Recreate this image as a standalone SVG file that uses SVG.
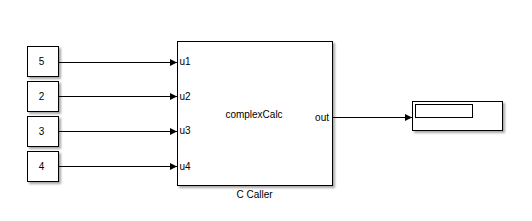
<svg xmlns="http://www.w3.org/2000/svg" width="532" height="221" viewBox="0 0 532 221">
<defs>
<marker id="arr" markerWidth="8" markerHeight="8" refX="7" refY="4" orient="auto" markerUnits="userSpaceOnUse">
<path d="M0,0.5 L7,4 L0,7.5 z" fill="#000"/>
</marker>
<filter id="sh" x="-10%" y="-10%" width="130%" height="130%">
<feGaussianBlur in="SourceAlpha" stdDeviation="1"/>
<feOffset dx="2" dy="2" result="b"/>
<feComponentTransfer><feFuncA type="linear" slope="0.35"/></feComponentTransfer>
<feMerge><feMergeNode/><feMergeNode in="SourceGraphic"/></feMerge>
</filter>
<style>
.blk{fill:#fff;stroke:#000;stroke-width:1;filter:url(#sh)}
.t{font-family:"Liberation Sans",Arial,sans-serif;font-size:10px;fill:#000}
.c{stroke:#000;stroke-width:1;fill:none;marker-end:url(#arr)}
</style>
</defs>
<rect width="532" height="221" fill="#fff"/>
<g id="const5"><rect class="blk" x="27.5" y="46.5" width="31" height="30"/><text class="t" x="41.5" y="64.5" text-anchor="middle">5</text></g>
<g id="const2"><rect class="blk" x="27.5" y="81.5" width="31" height="30"/><text class="t" x="41.5" y="99.5" text-anchor="middle">2</text></g>
<g id="const3"><rect class="blk" x="27.5" y="116.5" width="31" height="30"/><text class="t" x="41.5" y="134.5" text-anchor="middle">3</text></g>
<g id="const4"><rect class="blk" x="27.5" y="151.5" width="31" height="30"/><text class="t" x="41.5" y="169.5" text-anchor="middle">4</text></g>
<g id="ccaller">
<rect class="blk" x="177.5" y="41.5" width="155" height="144"/>
<text class="t" x="179.5" y="65">u1</text>
<text class="t" x="179.5" y="100">u2</text>
<text class="t" x="179.5" y="134">u3</text>
<text class="t" x="179.5" y="170">u4</text>
<text class="t" x="254" y="117.5" text-anchor="middle">complexCalc</text>
<text class="t" x="329" y="121" text-anchor="end">out</text>
<text class="t" x="254.5" y="198" text-anchor="middle">C Caller</text>
</g>
<g id="display">
<rect class="blk" x="412.5" y="101.5" width="90" height="29"/>
<rect x="415.5" y="104.5" width="57" height="13" fill="#fff" stroke="#000"/>
</g>
<g id="connectors">
<line class="c" x1="58.5" y1="62.5" x2="177" y2="62.5"/>
<line class="c" x1="58.5" y1="96.5" x2="177" y2="96.5"/>
<line class="c" x1="58.5" y1="131.5" x2="177" y2="131.5"/>
<line class="c" x1="58.5" y1="166.5" x2="177" y2="166.5"/>
<line class="c" x1="332.5" y1="117.5" x2="412" y2="117.5"/>
</g>
</svg>
